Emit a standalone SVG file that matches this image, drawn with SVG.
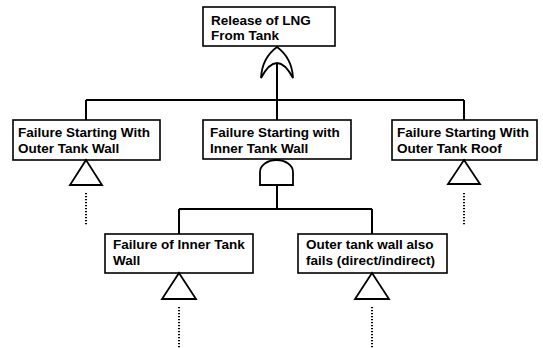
<svg xmlns="http://www.w3.org/2000/svg" width="543" height="348" viewBox="0 0 543 348">
<style>
.box{fill:#fff;stroke:#000;stroke-width:1.6}
.t{font-family:"Liberation Sans",Arial,sans-serif;font-weight:bold;font-size:13.5px;fill:#000}
.gate{fill:#fff;stroke:#000;stroke-width:1.8}
.ln{fill:none;stroke:#000;stroke-width:2}
.dot{fill:none;stroke:#000;stroke-width:2;stroke-dasharray:1.2 1.8}
</style>
<rect width="543" height="348" fill="#fff"/>
<g id="connectors">
<path class="ln" d="M277,63 V120 M86,100 H464 M86,100 V120 M464,100 V120"/>
<path class="ln" d="M277,185 V209 M179,209 H372 M179,209 V234 M372,209 V234"/>
<path class="dot" d="M86,193 V226 M464,193 V226 M179,307 V348 M372,307 V348"/>
</g>
<g id="top">
<rect class="box" x="203" y="7" width="132" height="39"/>
<text class="t" x="211" y="25">Release of LNG</text>
<text class="t" x="211" y="40">From Tank</text>
<path class="gate" d="M261,78 Q262,58 277,47 Q292,58 293,78 Q277,48 261,78 Z"/>
</g>
<g id="outer-wall">
<rect class="box" x="13" y="120" width="147" height="40"/>
<text class="t" x="18" y="137">Failure Starting With</text>
<text class="t" x="18" y="153">Outer Tank Wall</text>
<path class="gate" d="M86,160 L102,185 H70 Z"/>
</g>
<g id="inner-wall">
<rect class="box" x="203" y="120" width="148" height="39"/>
<text class="t" x="210" y="137">Failure Starting with</text>
<text class="t" x="210" y="153">Inner Tank Wall</text>
<path class="gate" d="M260,185 V172 A16.5,12 0 0 1 293,172 V185 Z"/>
</g>
<g id="outer-roof">
<rect class="box" x="392" y="120" width="145" height="40"/>
<text class="t" x="397" y="137">Failure Starting With</text>
<text class="t" x="397" y="153">Outer Tank Roof</text>
<path class="gate" d="M464,160 L480,184 H448 Z"/>
</g>
<g id="inner-failure">
<rect class="box" x="105" y="234" width="148" height="39"/>
<text class="t" x="113" y="249">Failure of Inner Tank</text>
<text class="t" x="113" y="265">Wall</text>
<path class="gate" d="M179,273 L196,299 H162 Z"/>
</g>
<g id="outer-also">
<rect class="box" x="298" y="234" width="149" height="39"/>
<text class="t" x="306" y="249">Outer tank wall also</text>
<text class="t" x="306" y="265">fails (direct/indirect)</text>
<path class="gate" d="M372,273 L389,299 H355 Z"/>
</g>
</svg>
